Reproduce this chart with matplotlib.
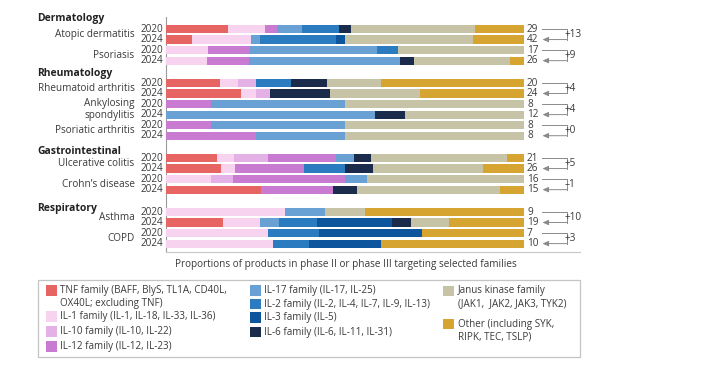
import numpy as np
import matplotlib.pyplot as plt
from matplotlib.patches import Rectangle

plt.rcParams['font.family'] = ['Open Sans', 'DejaVu Sans']

# %% Data: number of products per target family (phase II/III)

families = ["TNF", "IL-1", "IL-10", "IL-12", "IL-17", "IL-2", "IL-3", "IL-6", "JAK", "Other"]
colors = ["#e66563", "#f7d3ef", "#e3b1e5", "#c97bd2", "#69a1d5",
          "#2a7bbf", "#0d559c", "#1a2b4c", "#c7c3a7", "#d6a431"]

groups = ["Dermatology", "Rheumatology", "Gastrointestinal", "Respiratory"]
diseases = [
    ["Atopic dermatitis", "Psoriasis"],
    ["Rheumatoid arthritis", "Ankylosing\nspondylitis", "Psoriatic arthritis"],
    ["Ulcerative colitis", "Crohn\u2019s disease"],
    ["Asthma", "COPD"],
]

# order: TNF, IL-1, IL-10, IL-12, IL-17, IL-2, IL-3, IL-6, JAK, Other
ad_2020 = [5, 3, 0, 1, 2, 3, 0, 1, 10, 4]
ad_2024 = [3, 7, 0, 0, 1, 9, 1, 0, 15, 6]
pso_2020 = [0, 2, 0, 2, 6, 1, 0, 0, 6, 0]
pso_2024 = [0, 3, 0, 3, 11, 0, 0, 1, 7, 1]
ra_2020 = [3, 1, 1, 0, 0, 2, 0, 2, 3, 8]
ra_2024 = [5, 1, 1, 0, 0, 0, 0, 4, 6, 7]
as_2020 = [0, 0, 0, 1, 3, 0, 0, 0, 4, 0]
as_2024 = [0, 0, 0, 0, 7, 0, 0, 1, 4, 0]
psa_2020 = [0, 0, 0, 1, 3, 0, 0, 0, 4, 0]
psa_2024 = [0, 0, 0, 2, 2, 0, 0, 0, 4, 0]
uc_2020 = [3, 1, 2, 4, 1, 0, 0, 1, 8, 1]
uc_2024 = [4, 1, 0, 5, 0, 3, 0, 2, 8, 3]
cd_2020 = [0, 2, 1, 5, 1, 0, 0, 0, 7, 0]
cd_2024 = [4, 0, 0, 3, 0, 0, 0, 1, 6, 1]
asthma_2020 = [0, 3, 0, 0, 1, 0, 0, 0, 1, 4]
asthma_2024 = [3, 2, 0, 0, 1, 2, 4, 1, 2, 4]
copd_2020 = [0, 2, 0, 0, 0, 1, 2, 0, 0, 2]
copd_2024 = [0, 3, 0, 0, 0, 1, 2, 0, 0, 4]

pairs = [
    [(ad_2020, ad_2024), (pso_2020, pso_2024)],
    [(ra_2020, ra_2024), (as_2020, as_2024), (psa_2020, psa_2024)],
    [(uc_2020, uc_2024), (cd_2020, cd_2024)],
    [(asthma_2020, asthma_2024), (copd_2020, copd_2024)],
]
years = ["2020", "2024"]

legend_labels = [
    "TNF family (BAFF, BlyS, TL1A, CD40L,\nOX40L; excluding TNF)",
    "IL-1 family (IL-1, IL-18, IL-33, IL-36)",
    "IL-10 family (IL-10, IL-22)",
    "IL-12 family (IL-12, IL-23)",
    "IL-17 family (IL-17, IL-25)",
    "IL-2 family (IL-2, IL-4, IL-7, IL-9, IL-13)",
    "IL-3 family (IL-5)",
    "IL-6 family (IL-6, IL-11, IL-31)",
    "Janus kinase family\n(JAK1,  JAK2, JAK3, TYK2)",
    "Other (including SYK,\nRIPK, TEC, TSLP)",
]
caption = "Proportions of products in phase II or phase III targeting selected families"

# %% Layout (pixel units, figure is 701 x 380)

W, H = 701, 380
pitch, group_gap, y0 = 10.55, 22.3, 29.0
header_offsets = [11, 9, 7, 3]
bar_h = 8.2
x_left, x_right = 166, 524
txt = "#3b3b3b"
fs = 7.2

fig = plt.figure(figsize=(W / 100, H / 100), dpi=100)
ov = fig.add_axes([0, 0, 1, 1])
ov.set_xlim(0, W)
ov.set_ylim(H, 0)
ov.axis("off")

ax = fig.add_axes([x_left / W, 0, (x_right - x_left) / W, 1])
ax.set_xlim(0, 1)
ax.set_ylim(H, 0)
ax.axis("off")

y = y0
for g, (gname, dnames, gpairs) in enumerate(zip(groups, diseases, pairs)):
    ov.text(37, y - header_offsets[g], gname, fontsize=fs + 0.3, fontweight="bold",
            color="#222222", ha="left", va="center")
    for dname, (c20, c24) in zip(dnames, gpairs):
        rows = []
        for yr, counts in zip(years, (c20, c24)):
            counts = np.array(counts, dtype=float)
            total = int(counts.sum())
            frac = counts / counts.sum()
            left = np.concatenate([[0], np.cumsum(frac)[:-1]])
            ax.barh(y, frac, left=left, height=bar_h, color=colors, linewidth=0)
            ov.text(163.5, y + 0.3, yr, fontsize=fs, color=txt, ha="right", va="center")
            ov.text(527, y + 0.3, str(total), fontsize=fs, color=txt, ha="left", va="center")
            rows.append((y, total))
            y += pitch
        (ya, ta), (yb, tb) = rows
        ym = (ya + yb) / 2
        ov.text(134.5, ym + 0.3, dname, fontsize=fs, color=txt, ha="right", va="center",
                linespacing=1.05, multialignment="right")
        # change bracket
        ov.plot([542, 566.5, 566.5], [ya, ya, yb], color="#8a8a8a", lw=0.7)
        ov.annotate("", xy=(542.5, yb), xytext=(566.8, yb),
                    arrowprops=dict(arrowstyle="-|>,head_length=0.5,head_width=0.22",
                                    color="#8a8a8a", lw=0.7,
                                    mutation_scale=7, shrinkA=0, shrinkB=0))
        d = tb - ta
        lab = f"+{d}" if d >= 0 else f"\u2013{abs(d)}"
        ov.text(564.5, ym + 0.3, lab, fontsize=fs, color=txt, ha="left", va="center")
    y += group_gap - pitch

# axis lines
ov.plot([165.5, 165.5], [17, 252], color="#9a9a9a", lw=0.8)
ov.plot([165.5, 580], [252, 252], color="#c8c8c8", lw=0.8)

ov.text(346, 265, caption, fontsize=fs, color=txt, ha="center", va="center")

# %% Legend box
ov.add_patch(Rectangle((37.5, 279.5), 542.5, 77, fill=False, edgecolor="#c4c4c4", lw=0.9))
leg_cols = [(45.5, [0, 1, 2, 3], [291, 317, 332, 347]),
            (250, [4, 5, 6, 7], [291, 304.5, 318, 332.5]),
            (443, [8, 9], [291.5, 324.5])]
for xs, idxs, ys in leg_cols:
    for i, yl in zip(idxs, ys):
        ov.add_patch(Rectangle((xs, yl - 6), 11, 10.5, facecolor=colors[i], edgecolor="none"))
        ov.text(xs + 14.5, yl - 6, legend_labels[i], fontsize=fs - 0.1, color=txt,
                ha="left", va="top", linespacing=1.2)

fig.savefig("out.png", dpi=100)
